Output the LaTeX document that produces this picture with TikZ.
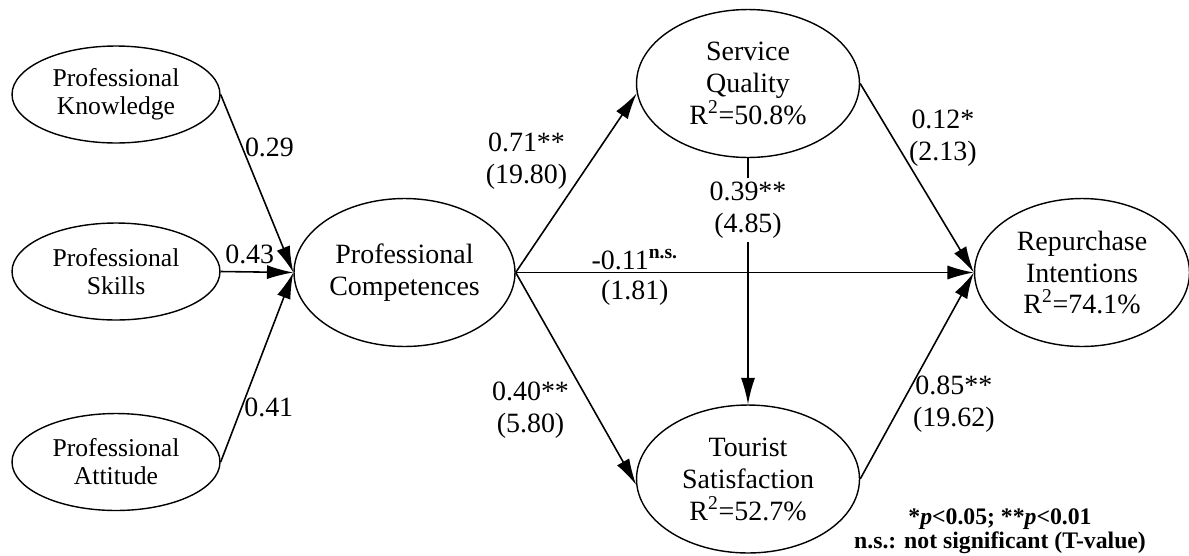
\documentclass[tikz,border=0pt]{standalone}
\usepackage{fontspec}
\setmainfont{Liberation Serif}
\usetikzlibrary{shapes.geometric,arrows.meta,positioning}

\begin{document}
\begin{tikzpicture}[x=0.02cm, y=-0.02cm,
    construct/.style = {ellipse, draw, line width=0.8pt, inner sep=0pt,
      align=center, minimum width=4.46cm, minimum height=2.96cm,
      font=\fontsize{15.9}{18.2}\selectfont},
    indicator/.style = {construct, minimum width=4.16cm, minimum height=1.94cm,
      font=\fontsize{14.6}{16}\selectfont},
    effect/.style = {draw, line width=0.9pt, -{Latex[length=15pt, width=8pt]}},
    coef/.style = {align=center, inner sep=1pt,
      font=\fontsize{15.9}{18.2}\selectfont}]
  \useasboundingbox (0,0) rectangle (1189,555);

  \node[indicator] (knowledge) at (116,94.5) {Professional\\Knowledge};
  \node[indicator] (skills) at (116,271.5) {Professional\\Skills};
  \node[indicator] (attitude) at (116,462) {Professional\\Attitude};
  \node[construct, minimum width=4.42cm] (competence) at (404.5,272.5)
    {Professional\\Competences};
  \node[construct] (quality) at (748,83.5)
    {Service\\Quality\\R\textsuperscript{2}=50.8\%};
  \node[construct] (satisfaction) at (748,479)
    {Tourist\\Satisfaction\\R\textsuperscript{2}=52.7\%};
  \node[construct, minimum width=4.3cm] (repurchase) at (1082,272.5)
    {Repurchase\\Intentions\\R\textsuperscript{2}=74.1\%};

  \draw[effect] (knowledge.east) -- node[coef, pos=0.3, anchor=west] {0.29}
    (competence.west);
  \draw[effect] (skills.east) -- node[coef, pos=0.4, above=3pt] {0.43}
    (competence.west);
  \draw[effect] (attitude.east) -- node[coef, pos=0.29, anchor=west] {0.41}
    (competence.west);

  \draw[effect] (competence.east) -- node[coef, pos=0.62, left=0.42cm]
    {0.71**\\(19.80)} (quality.185);
  \draw[effect] (competence.east) -- node[coef, pos=0.65, left=0.45cm]
    {0.40**\\(5.80)} (satisfaction.183);
  \draw[effect] (quality.south) -- node[coef, pos=0.21, fill=white, inner sep=2pt]
    {0.39**\\(4.85)} (satisfaction.north);
  \draw[effect] (competence.east)
    -- node[coef, pos=0.26, above] {-0.11\textsuperscript{\bfseries n.s.}}
       node[coef, pos=0.26, below=3pt] {(1.81)} (repurchase.west);
  \draw[effect] (quality.east) -- node[coef, pos=0.29, right=0.27cm]
    {0.12*\\(2.13)} (repurchase.west);
  \draw[effect] (satisfaction.east) -- node[coef, pos=0.36, right=0.19cm]
    {0.85**\\(19.62)} (repurchase.west);

  \node[align=center, font=\fontsize{13.5}{13.6}\selectfont\bfseries] (note)
    at (1000,531) {*\textit{p}<0.05; **\textit{p}<0.01\\n.s.: not significant (T-value)};
\end{tikzpicture}
\end{document}
